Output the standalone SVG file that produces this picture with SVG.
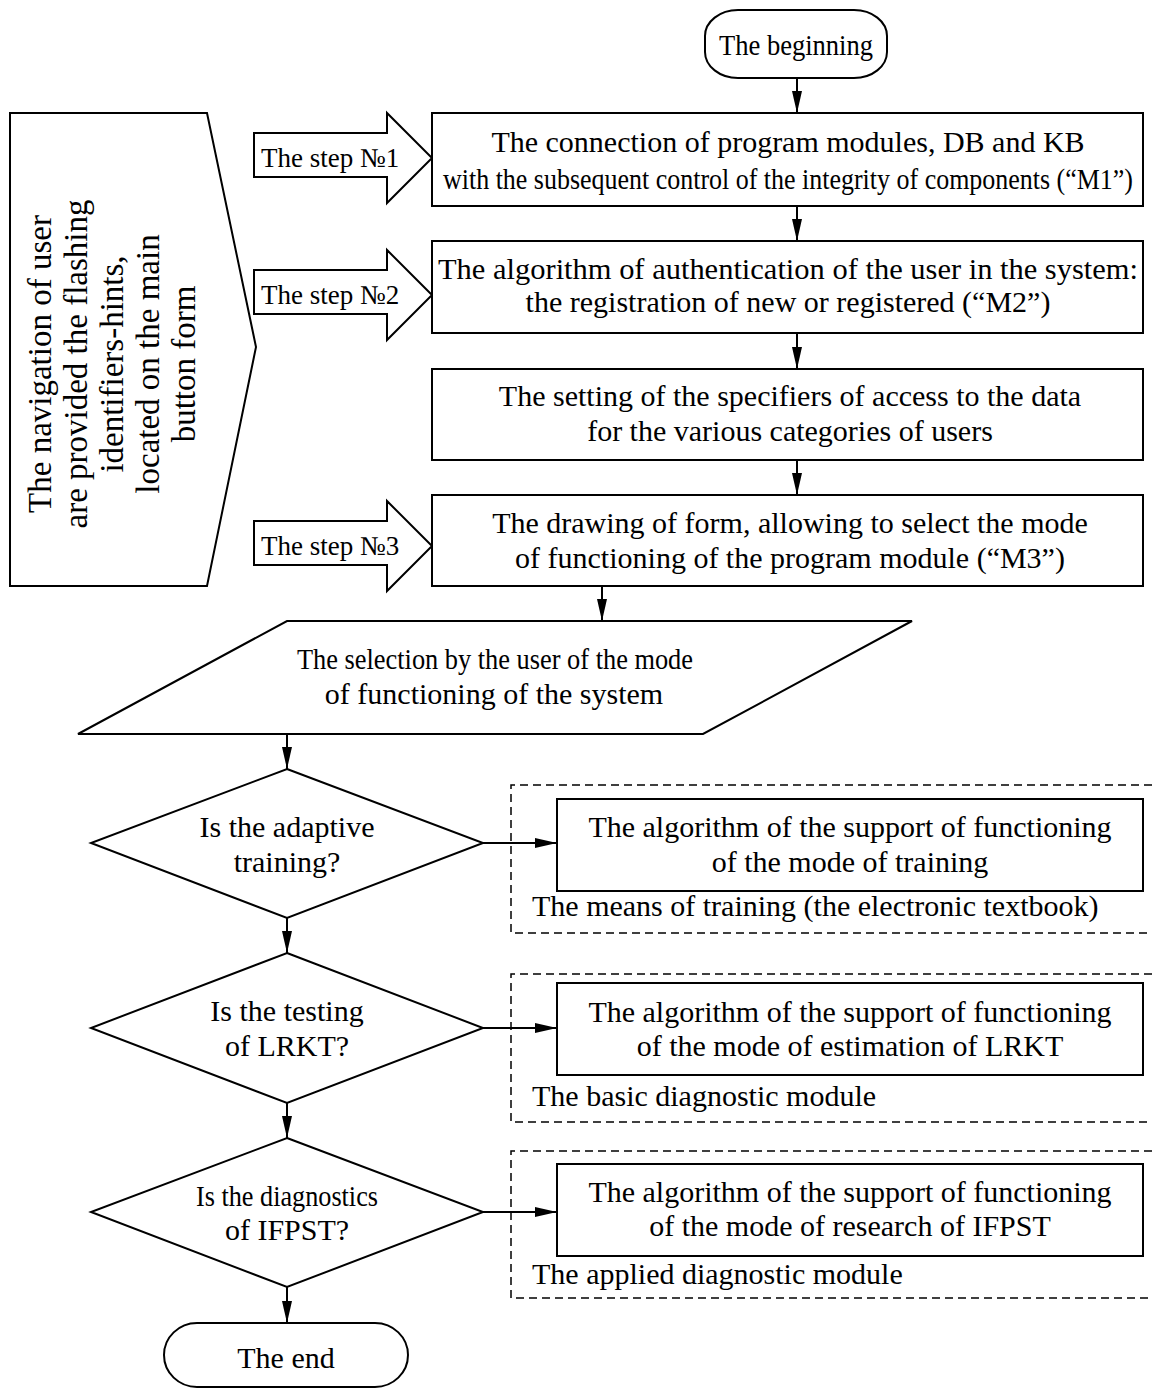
<svg xmlns="http://www.w3.org/2000/svg" width="1152" height="1389" viewBox="0 0 1152 1389">
<defs>
<marker id="ah" markerUnits="userSpaceOnUse" markerWidth="22" markerHeight="10" refX="22" refY="5" orient="auto">
<path d="M0,0 L22,5 L0,10 z" fill="#000"/>
</marker>
<style>
.s{fill:#fff;stroke:#000;stroke-width:2}
.d{fill:none;stroke:#000;stroke-width:1.5;stroke-dasharray:8 5}
.ln{fill:none;stroke:#000;stroke-width:2;marker-end:url(#ah)}
.t{font-family:"Liberation Serif","Times New Roman",serif;font-size:30px;fill:#000}
.c{text-anchor:middle}
.st{font-size:27px}
.pv{font-size:33px}
</style>
</defs>
<rect width="1152" height="1389" fill="#fff"/>

<g id="connectors">
<line class="ln" x1="797" y1="78" x2="797" y2="113"/>
<line class="ln" x1="797" y1="206" x2="797" y2="241"/>
<line class="ln" x1="797" y1="333" x2="797" y2="369"/>
<line class="ln" x1="797" y1="460" x2="797" y2="495"/>
<line class="ln" x1="602" y1="586" x2="602" y2="621"/>
<line class="ln" x1="287" y1="734" x2="287" y2="769"/>
<line class="ln" x1="287" y1="918" x2="287" y2="953"/>
<line class="ln" x1="287" y1="1103" x2="287" y2="1138"/>
<line class="ln" x1="287" y1="1287" x2="287" y2="1323"/>
<line class="ln" x1="483" y1="843" x2="557" y2="843"/>
<line class="ln" x1="483" y1="1028" x2="557" y2="1028"/>
<line class="ln" x1="483" y1="1212" x2="557" y2="1212"/>
</g>

<g id="begin">
<rect class="s" x="705" y="10" width="182" height="68" rx="33" ry="26"/>
<text class="t c" x="796" y="55" textLength="154" lengthAdjust="spacingAndGlyphs">The beginning</text>
</g>

<g id="navigation">
<polygon class="s" points="10,113 207,113 256,347 207,586 10,586"/>
<text class="t c pv" transform="translate(51,364) rotate(-90)">The navigation of user</text>
<text class="t c pv" transform="translate(87,364) rotate(-90)">are provided the flashing</text>
<text class="t c pv" transform="translate(123,364) rotate(-90)">identifiers-hints,</text>
<text class="t c pv" transform="translate(159,364) rotate(-90)">located on the main</text>
<text class="t c pv" transform="translate(195,364) rotate(-90)">button form</text>
</g>

<g id="step1">
<polygon class="s" points="254,133 387,133 387,113 432,158 387,203 387,177 254,177"/>
<text class="t st" x="261" y="167">The step №1</text>
</g>
<g id="step2">
<polygon class="s" points="254,270 387,270 387,250 432,295 387,340 387,314 254,314"/>
<text class="t st" x="261" y="304">The step №2</text>
</g>
<g id="step3">
<polygon class="s" points="254,521 387,521 387,501 432,546 387,591 387,565 254,565"/>
<text class="t st" x="261" y="555">The step №3</text>
</g>

<g id="box1">
<rect class="s" x="432" y="113" width="711" height="93"/>
<text class="t c" x="788" y="152">The connection of program modules, DB and KB</text>
<text class="t c" x="788" y="189" font-size="25.5" textLength="690" lengthAdjust="spacingAndGlyphs">with the subsequent control of the integrity of components (“M1”)</text>
</g>

<g id="box2">
<rect class="s" x="432" y="241" width="711" height="92"/>
<text class="t c" x="788" y="279" textLength="700" lengthAdjust="spacingAndGlyphs">The algorithm of authentication of the user in the system:</text>
<text class="t c" x="788" y="312">the registration of new or registered (“M2”)</text>
</g>

<g id="box3">
<rect class="s" x="432" y="369" width="711" height="91"/>
<text class="t c" x="790" y="406">The setting of the specifiers of access to the data</text>
<text class="t c" x="790" y="441">for the various categories of users</text>
</g>

<g id="box4">
<rect class="s" x="432" y="495" width="711" height="91"/>
<text class="t c" x="790" y="533">The drawing of form, allowing to select the mode</text>
<text class="t c" x="790" y="568">of functioning of the program module (“M3”)</text>
</g>

<g id="select">
<polygon class="s" points="287,621 912,621 703,734 78,734"/>
<text class="t c" x="495" y="669" textLength="396" lengthAdjust="spacingAndGlyphs">The selection by the user of the mode</text>
<text class="t c" x="494" y="704">of functioning of the system</text>
</g>

<g id="q1">
<polygon class="s" points="287,769 483,843 287,918 91,843"/>
<text class="t c" x="287" y="837">Is the adaptive</text>
<text class="t c" x="287" y="872">training?</text>
</g>
<g id="q2">
<polygon class="s" points="287,953 483,1028 287,1103 91,1028"/>
<text class="t c" x="287" y="1021">Is the testing</text>
<text class="t c" x="287" y="1056">of LRKT?</text>
</g>
<g id="q3">
<polygon class="s" points="287,1138 483,1212 287,1287 91,1212"/>
<text class="t c" x="287" y="1206" textLength="182" lengthAdjust="spacingAndGlyphs">Is the diagnostics</text>
<text class="t c" x="287" y="1240">of IFPST?</text>
</g>

<g id="training">
<path class="d" d="M1152,785 H511 V933 H1152"/>
<rect class="s" x="557" y="799" width="586" height="92"/>
<text class="t c" x="850" y="837">The algorithm of the support of functioning</text>
<text class="t c" x="850" y="872">of the mode of training</text>
<text class="t" x="532" y="916">The means of training (the electronic textbook)</text>
</g>

<g id="basic">
<path class="d" d="M1152,974 H511 V1122 H1152"/>
<rect class="s" x="557" y="983" width="586" height="92"/>
<text class="t c" x="850" y="1022">The algorithm of the support of functioning</text>
<text class="t c" x="850" y="1056">of the mode of estimation of LRKT</text>
<text class="t" x="532" y="1106">The basic diagnostic module</text>
</g>

<g id="applied">
<path class="d" d="M1152,1151 H511 V1298 H1152"/>
<rect class="s" x="557" y="1164" width="586" height="92"/>
<text class="t c" x="850" y="1202">The algorithm of the support of functioning</text>
<text class="t c" x="850" y="1236">of the mode of research of IFPST</text>
<text class="t" x="532" y="1284">The applied diagnostic module</text>
</g>

<g id="end">
<rect class="s" x="164" y="1323" width="244" height="64" rx="33" ry="32"/>
<text class="t c" x="286" y="1368">The end</text>
</g>
</svg>
